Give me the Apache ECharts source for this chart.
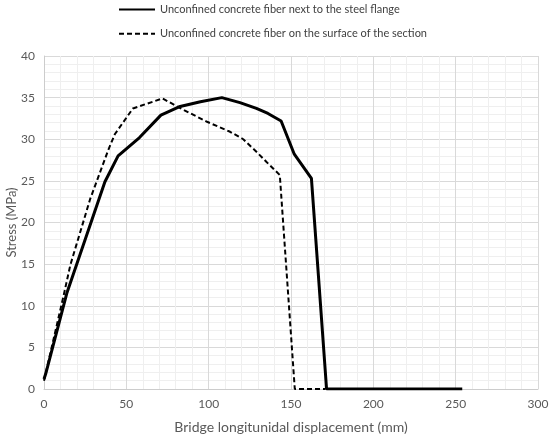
<!DOCTYPE html>
<html>
<head>
<meta charset="utf-8">
<script src="https://cdn.jsdelivr.net/npm/echarts@6/dist/echarts.min.js"></script>
<style>html,body{margin:0;padding:0;background:#fff}#c{width:550px;height:436px}</style>
</head>
<body>
<div id="c"></div>
<script>
const seriesNames = ['Unconfined concrete fiber next to the steel flange', 'Unconfined concrete fiber on the surface of the section'];
const flangeX = [0, 1, 14, 37, 45, 58, 71, 82, 95, 108, 119, 129, 136, 144, 152, 162.4, 171.6, 254];
const flangeY = [1.2, 1.8, 11.6, 24.9, 28.0, 30.2, 32.9, 33.9, 34.5, 35.0, 34.4, 33.7, 33.1, 32.2, 28.2, 25.3, 0, 0];
const surfaceX = [0, 12, 16, 28, 39, 43, 54, 72, 85, 99, 113, 121, 129, 135, 143.2, 152.3, 171];
const surfaceY = [1.0, 11.3, 14.9, 22.8, 28.7, 30.6, 33.7, 34.9, 33.5, 32.1, 30.9, 30.0, 28.5, 27.3, 25.7, 0, 0];
const xTicks = [0, 50, 100, 150, 200, 250, 300];
const yTicks = [0, 5, 10, 15, 20, 25, 30, 35, 40];
const xTitle = 'Bridge longitunidal displacement (mm)';
const yTitle = 'Stress (MPa)';

const zip = (xs, ys) => xs.map((x, i) => [x, ys[i]]);
const FONT = 'Lato';
const chart = echarts.init(document.getElementById('c'), null, {renderer: 'canvas'});
chart.setOption({
  animation: false,
  backgroundColor: '#ffffff',
  legend: {
    orient: 'vertical',
    left: 113, top: 2, padding: [2, 5, 2, 5],
    itemWidth: 36, itemHeight: 14, itemGap: 13,
    itemStyle: {opacity: 0},
    textStyle: {fontFamily: FONT, fontSize: 11, color: '#404040'},
    data: seriesNames
  },
  grid: {left: 44, right: 12, top: 56, bottom: 47, containLabel: false, outerBoundsMode: 'none'},
  xAxis: {
    type: 'value', min: xTicks[0], max: xTicks[xTicks.length - 1], interval: 50,
    name: xTitle, nameLocation: 'middle', nameGap: 31, nameMoveOverlap: false,
    nameTextStyle: {fontFamily: FONT, fontSize: 14, color: '#595959'},
    axisLine: {show: true, lineStyle: {color: '#cccccc'}},
    axisTick: {show: false},
    axisLabel: {fontFamily: FONT, fontSize: 12, color: '#595959', margin: 9},
    splitLine: {show: true, lineStyle: {color: '#d9d9d9', width: 1}},
    minorTick: {show: false, splitNumber: 5},
    minorSplitLine: {show: true, lineStyle: {color: '#efefef', width: 1}}
  },
  yAxis: {
    type: 'value', min: yTicks[0], max: yTicks[yTicks.length - 1], interval: 5,
    name: yTitle, nameLocation: 'middle', nameGap: 26, nameMoveOverlap: false,
    nameTextStyle: {fontFamily: FONT, fontSize: 13, color: '#595959'},
    axisLine: {show: true, lineStyle: {color: '#cccccc'}},
    axisTick: {show: false},
    axisLabel: {fontFamily: FONT, fontSize: 12, color: '#595959', margin: 9},
    splitLine: {show: true, lineStyle: {color: '#d9d9d9', width: 1}},
    minorTick: {show: false, splitNumber: 5},
    minorSplitLine: {show: true, lineStyle: {color: '#efefef', width: 1}}
  },
  series: [
    {
      name: seriesNames[1], type: 'line', data: zip(surfaceX, surfaceY),
      symbol: 'none', z: 2,
      lineStyle: {color: '#000', width: 2, type: [5, 3]},
      itemStyle: {color: '#000'}
    },
    {
      name: seriesNames[0], type: 'line', data: zip(flangeX, flangeY),
      symbol: 'none', z: 3,
      lineStyle: {color: '#000', width: 3, type: 'solid'},
      itemStyle: {color: '#000'}
    }
  ]
});
</script>
</body>
</html>
